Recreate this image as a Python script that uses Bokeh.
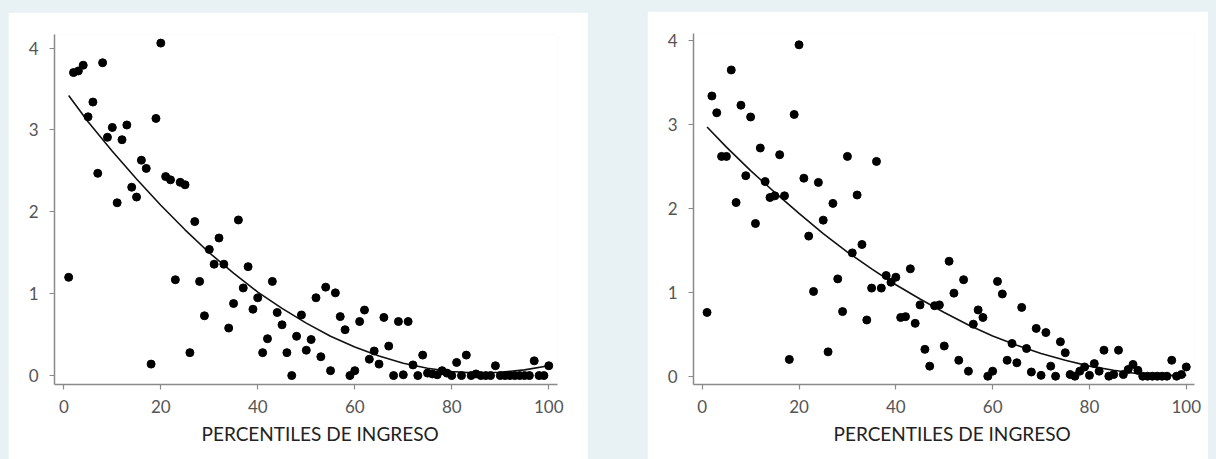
from bokeh.plotting import figure
from bokeh.layouts import row
from bokeh.models import Range1d, FixedTicker, Title
from bokeh.embed import file_html
from bokeh.resources import INLINE

# ---------------- data ----------------
percentiles = list(range(1, 101))

left_values = [
    1.20, 3.70, 3.72, 3.79, 3.16, 3.34, 2.47, 3.82, 2.91, 3.03,
    2.11, 2.88, 3.06, 2.30, 2.18, 2.63, 2.53, 0.14, 3.14, 4.06,
    2.43, 2.39, 1.17, 2.36, 2.33, 0.28, 1.88, 1.15, 0.73, 1.54,
    1.36, 1.68, 1.36, 0.58, 0.88, 1.90, 1.07, 1.33, 0.81, 0.95,
    0.28, 0.45, 1.15, 0.77, 0.62, 0.28, 0.00, 0.48, 0.74, 0.31,
    0.44, 0.95, 0.23, 1.08, 0.06, 1.01, 0.72, 0.56, 0.00, 0.06,
    0.66, 0.80, 0.20, 0.30, 0.14, 0.71, 0.36, 0.00, 0.66, 0.01,
    0.66, 0.13, 0.00, 0.25, 0.03, 0.02, 0.01, 0.06, 0.03, 0.00,
    0.16, 0.00, 0.25, 0.00, 0.02, 0.00, 0.00, 0.00, 0.12, 0.00,
    0.00, 0.00, 0.00, 0.00, 0.00, 0.00, 0.18, 0.00, 0.00, 0.12,
]

right_values = [
    0.76, 3.34, 3.14, 2.62, 2.62, 3.65, 2.07, 3.23, 2.39, 3.09,
    1.82, 2.72, 2.32, 2.13, 2.15, 2.64, 2.15, 0.20, 3.12, 3.95,
    2.36, 1.67, 1.01, 2.31, 1.86, 0.29, 2.06, 1.16, 0.77, 2.62,
    1.47, 2.16, 1.57, 0.67, 1.05, 2.56, 1.05, 1.20, 1.12, 1.18,
    0.70, 0.71, 1.28, 0.63, 0.85, 0.32, 0.12, 0.84, 0.85, 0.36,
    1.37, 0.99, 0.19, 1.15, 0.06, 0.62, 0.79, 0.70, 0.00, 0.06,
    1.13, 0.98, 0.19, 0.39, 0.16, 0.82, 0.33, 0.05, 0.57, 0.01,
    0.52, 0.12, 0.00, 0.41, 0.28, 0.02, 0.00, 0.06, 0.11, 0.01,
    0.15, 0.06, 0.31, 0.00, 0.02, 0.31, 0.02, 0.08, 0.14, 0.07,
    0.00, 0.00, 0.00, 0.00, 0.00, 0.00, 0.19, 0.00, 0.02, 0.11,
]

fit_x = [1, 5, 10, 15, 20, 25, 30, 35, 40, 45, 50,
         55, 60, 65, 70, 75, 80, 85, 90, 95, 100]
left_fit = [3.42, 3.10, 2.74, 2.40, 2.08, 1.78, 1.50, 1.25, 1.02, 0.82, 0.64,
            0.48, 0.35, 0.24, 0.15, 0.09, 0.05, 0.03, 0.04, 0.07, 0.12]
right_fit = [2.97, 2.73, 2.45, 2.19, 1.94, 1.70, 1.48, 1.28, 1.09, 0.92, 0.76,
             0.61, 0.48, 0.37, 0.27, 0.19, 0.12, 0.07, 0.03, 0.01, 0.01]

x_ticks = [0, 20, 40, 60, 80, 100]
y_ticks = [0, 1, 2, 3, 4]
x_title = "PERCENTILES DE INGRESO"

# ---------------- style ----------------
BG = "#e8f1f3"
AXIS = "#8a8a8a"
TICKTXT = "#555555"
FONT = "Lato"


def make_panel(xs, ys, fx, fy, width, height, borders, xr, yr, title_offset, margin):
    p = figure(width=width, height=height, output_backend="svg",
               toolbar_location=None, x_range=Range1d(*xr), y_range=Range1d(*yr),
               min_border_left=borders[0], min_border_right=borders[1],
               min_border_top=borders[2], min_border_bottom=borders[3],
               margin=margin)
    p.background_fill_color = "white"
    p.border_fill_color = "white"
    p.outline_line_color = None
    p.xgrid.grid_line_color = None
    p.ygrid.grid_line_color = None

    p.xaxis.ticker = FixedTicker(ticks=x_ticks)
    p.yaxis.ticker = FixedTicker(ticks=y_ticks)
    for ax in (p.xaxis, p.yaxis):
        ax.axis_line_color = AXIS
        ax.axis_line_width = 1.5
        ax.major_tick_line_color = AXIS
        ax.major_tick_line_width = 1.2
        ax.major_tick_out = 5
        ax.major_tick_in = 0
        ax.minor_tick_line_color = None
        ax.major_label_text_font = FONT
        ax.major_label_text_font_size = "17px"
        ax.major_label_text_color = TICKTXT
    p.xaxis.major_label_standoff = 10
    p.yaxis.major_label_standoff = 11
    p.yaxis.major_label_orientation = "horizontal"

    p.line(fx, fy, line_color="#111111", line_width=1.6)
    p.scatter(xs, ys, size=8, marker="circle", fill_color="black", line_color="black")

    t = Title(text=x_title, align="left", offset=title_offset, standoff=9,
              text_font=FONT, text_font_size="19px", text_font_style="normal",
              text_color="#222222")
    p.add_layout(t, "below")
    return p


p1 = make_panel(percentiles, left_values, fit_x, left_fit,
                width=580, height=447, borders=(46, 31, 21, 73),
                xr=(-1.92, 101.8), yr=(-0.109, 4.165),
                title_offset=147, margin=(12, 0, 0, 8))

p2 = make_panel(percentiles, right_values, fit_x, right_fit,
                width=561, height=448, borders=(46, 14, 22, 75),
                xr=(-1.8, 101.7), yr=(-0.099, 4.085),
                title_offset=140, margin=(11, 8, 0, 59))

layout = row(p1, p2, styles={"background-color": BG})

open("out.html", "w").write(file_html(layout, INLINE))
